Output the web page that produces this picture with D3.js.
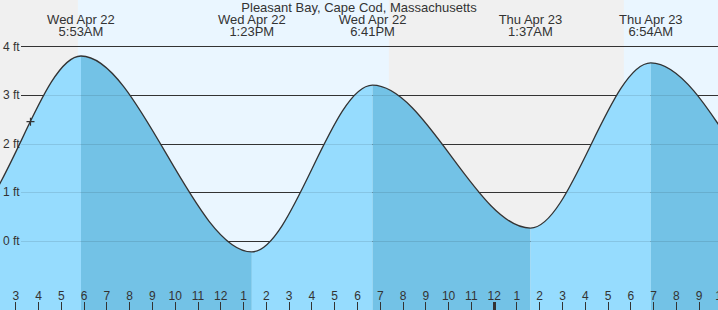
<!DOCTYPE html>
<html>
<head>
<meta charset="utf-8">
<script src="https://cdn.jsdelivr.net/npm/d3@7"></script>
<style>
  body { margin: 0; background: #fff; }
  svg { display: block; font-family: "Liberation Sans", Arial, sans-serif; }
</style>
</head>
<body>
<div id="chart"></div>
<script>
var svgWidth = 718;
var svgHeight = 310;

// chart title
var title = 'Pleasant Bay, Cape Cod, Massachusetts';

// high / low tides (first two and last two are off the chart, estimated)
var tideTimes = [
  new Date(2020, 3, 21, 19, 20),
  new Date(2020, 3, 22, 0, 40),
  new Date(2020, 3, 22, 5, 53),
  new Date(2020, 3, 22, 13, 23),
  new Date(2020, 3, 22, 18, 41),
  new Date(2020, 3, 23, 1, 37),
  new Date(2020, 3, 23, 6, 54),
  new Date(2020, 3, 23, 14, 25),
  new Date(2020, 3, 23, 19, 40)
];
var tideHeights = [3.3, 0.35, 3.80, -0.23, 3.20, 0.26, 3.66, 0.0, 3.3];
var tideLabels = [null, null, ['Wed Apr 22', '5:53AM'], ['Wed Apr 22', '1:23PM'],
  ['Wed Apr 22', '6:41PM'], ['Thu Apr 23', '1:37AM'], ['Thu Apr 23', '6:54AM'], null, null];

// daylight periods (sunrise, sunset)
var dayStarts = [new Date(2020, 3, 22, 5, 45), new Date(2020, 3, 23, 5, 43)];
var dayEnds = [new Date(2020, 3, 22, 19, 24), new Date(2020, 3, 23, 12, 0)];

// current time marker
var nowTime = new Date(2020, 3, 22, 3, 40);
var nowHeight = 2.45;

// y axis ticks in ft
var feetTicks = [0, 1, 2, 3, 4];

// visible time window
var timeDomain = [new Date(2020, 3, 22, 2, 19, 42), new Date(2020, 3, 23, 9, 51)];

var svg = d3.select('#chart')
  .append('svg')
  .attr('width', svgWidth)
  .attr('height', svgHeight);

var x = d3.scaleTime()
  .domain(timeDomain)
  .range([0, svgWidth]);

var y = d3.scaleLinear()
  .domain([0, 4])
  .range([240.7, 46.3]);

// background: night grey, day light blue
svg.append('rect')
  .attr('width', svgWidth)
  .attr('height', svgHeight)
  .attr('fill', '#f0f0f0');

svg.selectAll('.day')
  .data(dayStarts)
  .enter()
  .append('rect')
  .classed('day', true)
  .attr('x', (d, i) => x(d))
  .attr('y', 0)
  .attr('width', (d, i) => x(dayEnds[i]) - x(d))
  .attr('height', svgHeight)
  .attr('fill', '#eaf6ff');

// grid lines (under the water)
svg.selectAll('.grid')
  .data(feetTicks)
  .enter()
  .append('line')
  .classed('grid', true)
  .attr('x1', 21)
  .attr('x2', svgWidth)
  .attr('y1', d => Math.round(y(d)) + 0.5)
  .attr('y2', d => Math.round(y(d)) + 0.5)
  .attr('stroke', '#333')
  .attr('stroke-width', 1);

var tideData = tideTimes.map((t, i) => ({ time: t, h: tideHeights[i] }));

var area = d3.area()
  .x(d => x(d.time))
  .y0(svgHeight)
  .y1(d => y(d.h))
  .curve(d3.curveMonotoneX);

var line = d3.line()
  .x(d => x(d.time))
  .y(d => y(d.h))
  .curve(d3.curveMonotoneX);

svg.append('clipPath')
  .attr('id', 'water')
  .append('path')
  .attr('d', area(tideData));

var water = svg.append('g')
  .attr('clip-path', 'url(#water)');

// rising tide light, falling tide darker
water.selectAll('rect')
  .data(tideData.slice(0, -1))
  .enter()
  .append('rect')
  .attr('x', d => x(d.time))
  .attr('y', 0)
  .attr('width', (d, i) => x(tideData[i + 1].time) - x(d.time))
  .attr('height', svgHeight)
  .attr('fill', (d, i) => tideData[i + 1].h > d.h ? '#96dcfe' : '#73c2e6');

// faint grid lines seen through the water
water.selectAll('line')
  .data(feetTicks)
  .enter()
  .append('line')
  .attr('x1', 21)
  .attr('x2', svgWidth)
  .attr('y1', d => Math.round(y(d)) + 0.5)
  .attr('y2', d => Math.round(y(d)) + 0.5)
  .attr('stroke', '#000')
  .attr('stroke-opacity', 0.1);

// tide curve
svg.append('path')
  .attr('d', line(tideData))
  .attr('fill', 'none')
  .attr('stroke', '#333')
  .attr('stroke-width', 1.3);

// y labels
svg.selectAll('.ylabel')
  .data(feetTicks)
  .enter()
  .append('text')
  .classed('ylabel', true)
  .attr('x', 3)
  .attr('y', d => y(d))
  .attr('dy', '0.35em')
  .attr('font-size', '12px')
  .attr('fill', '#333')
  .text(d => d + ' ft');

// hour ticks along the bottom
var hours = d3.timeHour.range(timeDomain[0], d3.timeHour.offset(timeDomain[1], 1));

svg.selectAll('.tick')
  .data(hours)
  .enter()
  .append('line')
  .classed('tick', true)
  .attr('x1', d => Math.round(x(d)) + 0.5)
  .attr('x2', d => Math.round(x(d)) + 0.5)
  .attr('y1', 302)
  .attr('y2', svgHeight)
  .attr('stroke', '#333')
  .attr('stroke-width', d => d.getHours() === 0 ? 3 : 1);

svg.selectAll('.hour')
  .data(hours)
  .enter()
  .append('text')
  .classed('hour', true)
  .attr('x', d => x(d) + 0.5)
  .attr('y', 300)
  .attr('text-anchor', 'middle')
  .attr('font-size', '12px')
  .attr('fill', '#333')
  .text(d3.timeFormat('%-I'));

// now marker
svg.append('path')
  .attr('d', `M${x(nowTime) - 4},${y(nowHeight)}h8M${x(nowTime)},${y(nowHeight) - 4}v8`)
  .attr('stroke', '#333')
  .attr('stroke-width', 1.2);

// high / low labels
var events = tideData.map((d, i) => ({ time: d.time, label: tideLabels[i] }))
  .filter(d => d.label);

var eventText = svg.selectAll('.event')
  .data(events)
  .enter()
  .append('text')
  .classed('event', true)
  .attr('text-anchor', 'middle')
  .attr('font-size', '13px')
  .attr('fill', '#333');

eventText.append('tspan')
  .attr('x', d => x(d.time))
  .attr('y', 24)
  .text(d => d.label[0]);

eventText.append('tspan')
  .attr('x', d => x(d.time))
  .attr('y', 35.5)
  .text(d => d.label[1]);

// title
svg.append('text')
  .attr('x', svgWidth / 2)
  .attr('y', 12)
  .attr('text-anchor', 'middle')
  .attr('font-size', '13px')
  .attr('fill', '#333')
  .text(title);
</script>
</body>
</html>
